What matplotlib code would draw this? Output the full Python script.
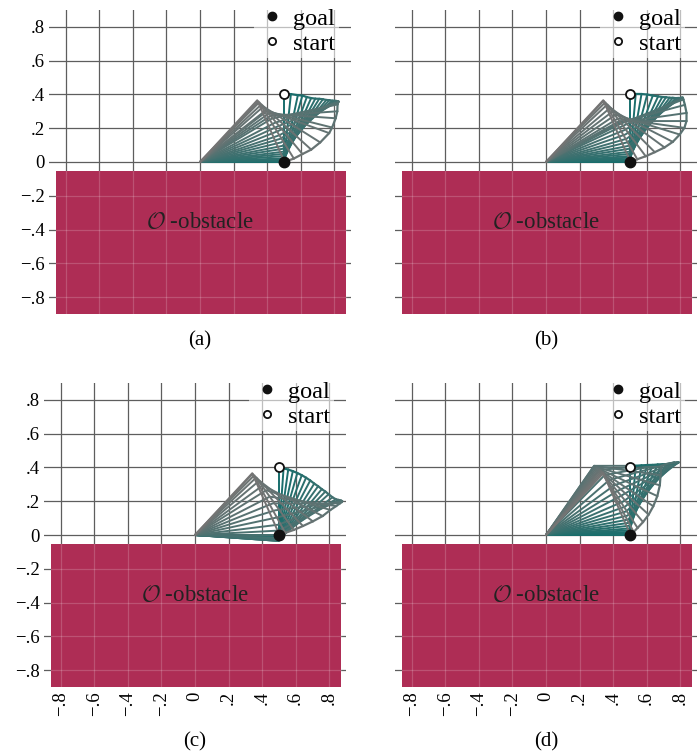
import numpy as np
import matplotlib
matplotlib.use('Agg')
import matplotlib.pyplot as plt
from matplotlib.colors import to_rgb
from matplotlib.patches import Rectangle

plt.rcParams['font.family'] = ['Liberation Serif', 'DejaVu Serif']
plt.rcParams['mathtext.fontset'] = 'cm'

# arm geometry and task
link1, link2 = 0.5, 0.4
goal = (0.5, 0.0)
start = (0.5, 0.4)
obstacle_x = (-0.86, 0.87)
obstacle_y = (-0.9, -0.055)

# joint angles per frame (deg): link 1 angle, link 2 absolute angle
theta_a = [0, 0.5, 0.5, 1, 1, 1.5, 2.5, 4, 5.5, 7, 9, 11, 13.5, 16, 18.5, 21.5, 24.5, 27.5,
           31, 33, 35, 37, 38, 41, 43, 45, 46, 47]
phi_a = [90, 84, 78, 74, 70, 66, 62, 58, 54, 50, 46, 42, 38, 34, 30, 26, 22, 18,
         12, 4, -4, -14, -20, -32, -42, -50, -58, -66]

theta_b = [0, 0.5, 1, 1.5, 2, 3, 4, 5.5, 7, 9, 11, 13.5, 16, 19, 22, 25, 27, 28,
           28, 29, 31, 34, 37, 40, 43, 45, 46.5, 47]
phi_b = [90, 85, 80, 75, 70, 65, 61, 57, 53, 49, 45, 41, 37, 33, 29, 25, 21, 15,
         8, 0, -8, -17, -27, -36, -45, -53, -60, -66]

theta_c = [0, -0.5, -1, -1.5, -2, -2.5, -3, -3.5, -4, -4, -4, -3.5, -3, -2, 0, 3, 7, 12,
           17, 22, 27, 32, 36, 40, 43, 45, 46.5, 47]
phi_c = [90, 86, 82, 78, 74, 70, 66, 62, 58, 54, 50, 46, 42, 37, 32, 27, 21, 14,
         7, 0, -8, -17, -27, -37, -46, -54, -61, -66]

theta_d = [0, 1.3, 2.1, 3.2, 4.5, 6.3, 8.3, 10.6, 13.3, 16.3, 19.6, 23.3, 27.4, 31.5,
           35.9, 40.8, 45.4, 50.4, 55, 55, 54, 53, 52, 51, 50, 49, 48, 47]
phi_d = [90, 85, 80, 75, 70, 65, 60, 55, 50, 45, 40, 35, 30, 25,
         20, 15, 10, 5, 0, -8, -16, -25, -34, -42, -50, -57, -62, -66]

ticks = [-0.8, -0.6, -0.4, -0.2, 0, 0.2, 0.4, 0.6, 0.8]
tick_labels = ['\u2212.8', '\u2212.6', '\u2212.4', '\u2212.2', '0', '.2', '.4', '.6', '.8']

panels = [('(a)', theta_a, phi_a), ('(b)', theta_b, phi_b),
          ('(c)', theta_c, phi_c), ('(d)', theta_d, phi_d)]

teal = np.array(to_rgb('#176e6c'))
gray = np.array(to_rgb('#747474'))

fig = plt.figure(figsize=(7, 7.56), dpi=100)
W, H = 700, 756
boxes = [(49, 10), (395, 10), (44, 383), (395, 383)]   # left, top in pixels
aw, ah = 302, 304

for k, (name, th, ph) in enumerate(panels):
    left, top = boxes[k]
    ax = fig.add_axes([left / W, 1 - (top + ah) / H, aw / W, ah / H])
    ax.set_xlim(-0.9, 0.9)
    ax.set_ylim(-0.9, 0.9)
    ax.set_xticks(ticks)
    ax.set_yticks(ticks)
    ax.grid(True, color='#5e5e5e', lw=0.9)
    ax.set_axisbelow(True)
    for s in ax.spines.values():
        s.set_visible(False)
    ax.tick_params(length=0, labelsize=13.5, pad=3)
    if k >= 2:
        ax.set_xticklabels(tick_labels, rotation=90)
    else:
        ax.set_xticklabels([])
    if k % 2 == 0:
        ax.set_yticklabels(tick_labels)
    else:
        ax.set_yticklabels([])

    # obstacle
    ax.add_patch(Rectangle((obstacle_x[0], obstacle_y[0]), obstacle_x[1] - obstacle_x[0],
                           obstacle_y[1] - obstacle_y[0], facecolor='#ae2d55',
                           edgecolor='none', zorder=1))
    for t in ticks:
        ax.plot([t, t], obstacle_y, color='white', alpha=0.18, lw=0.9, zorder=1.5)
        if obstacle_y[0] < t < obstacle_y[1]:
            ax.plot(obstacle_x, [t, t], color='white', alpha=0.18, lw=0.9, zorder=1.5)
    ax.text(0, -0.36, r'$\mathcal{O}$ -obstacle', ha='center', va='center',
            fontsize=16.5, color='#222222', zorder=2)

    # arm frames, teal (start) -> gray (goal)
    th = np.radians(th)
    ph = np.radians(ph)
    n = len(th)
    ex, ey = link1 * np.cos(th), link1 * np.sin(th)
    px, py = ex + link2 * np.cos(ph), ey + link2 * np.sin(ph)
    for i in range(n):
        c = teal + (gray - teal) * i / (n - 1)
        ax.plot([0, ex[i], px[i]], [0, ey[i], py[i]], color=c, lw=1.4, zorder=3,
                solid_joinstyle='round', solid_capstyle='round')
    # end-effector trajectory
    for i in range(n - 1):
        c = teal + (gray - teal) * i / (n - 1)
        ax.plot(px[i:i + 2], py[i:i + 2], color=c, lw=1.6, zorder=3.5,
                solid_capstyle='round')

    hg, = ax.plot(goal[0], goal[1], 'o', color='#111111', ms=7.5, zorder=5, label='goal')
    hs, = ax.plot(start[0], start[1], 'o', mfc='white', mec='#111111', mew=1.3, ms=6.5,
                  zorder=5, label='start')
    leg = ax.legend(handles=[hg, hs], loc='upper right', bbox_to_anchor=(0.96, 1.02),
                    fontsize=17.5, frameon=True, framealpha=0.6, borderaxespad=0,
                    handletextpad=0.25, labelspacing=0.12, handlelength=1.2,
                    borderpad=0.15, fancybox=False, markerscale=0.8)
    leg.get_frame().set_edgecolor('none')
    leg.set_zorder(6)

    cx = (left + aw / 2) / W
    cy = 1 - (341 if k < 2 else 742) / H
    fig.text(cx, cy, name, ha='center', va='center', fontsize=15)

fig.savefig('out.png', dpi=100)
